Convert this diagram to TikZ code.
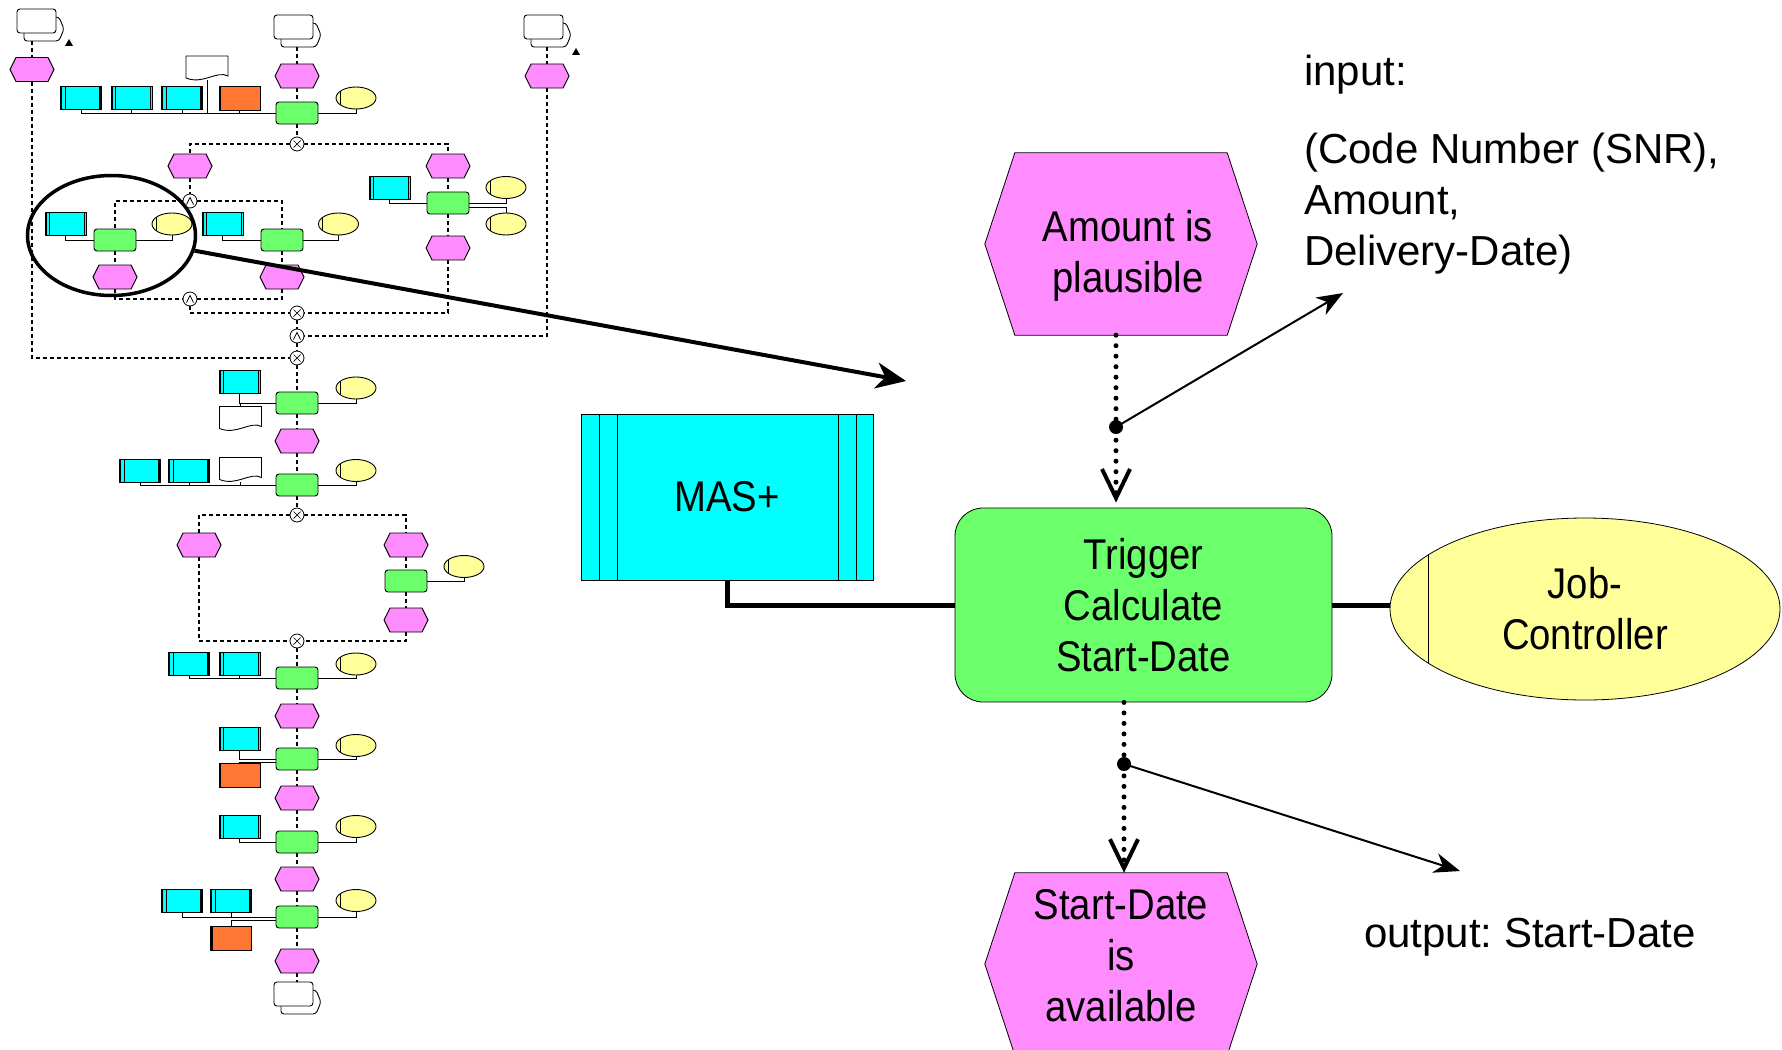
\documentclass[tikz,border=0pt]{standalone}
\usepackage{fontspec}
\setmainfont{Liberation Sans}
\newfontfamily\nodefont[FakeStretch=0.89]{Liberation Sans}
\usetikzlibrary{arrows.meta,shapes.geometric,backgrounds}
\definecolor{epcpink}{HTML}{FF8CFF}
\definecolor{epcgreen}{HTML}{6CFF6C}
\definecolor{epccyan}{HTML}{00FFFF}
\definecolor{epcyellow}{HTML}{FFFF99}
\definecolor{epcorange}{HTML}{FF7733}
\newcommand\epcfont{\nodefont\fontsize{43}{51}\selectfont\frenchspacing}
\newcommand\txtfont{\fontsize{42}{51}\selectfont\frenchspacing}
% mini event (hexagon)
\newcommand\mhex[3]{%
  \filldraw[mline, fill=epcpink] (#2-22,#3) -- (#2-16,#3-12) -- (#2+16,#3-12) -- (#2+22,#3) -- (#2+16,#3+12) -- (#2-16,#3+12) -- cycle;
  \node[minimum width=44pt, minimum height=24pt, inner sep=0pt] (#1) at (#2,#3) {};}
% mini document
\newcommand\mdoc[3]{%
  \filldraw[mline, fill=white] (#2-21,#3-12) -- (#2+21,#3-12) -- (#2+21,#3+8) .. controls (#2+10,#3+2) and (#2-4,#3+17) .. (#2-21,#3+10) -- cycle;
  \node[minimum width=42pt, minimum height=24pt, inner sep=0pt] (#1) at (#2,#3) {};}
% mini process interface
\newcommand\mpi[3]{%
  \filldraw[mline, fill=white, rounded corners=3pt] (#2-16,#3-8) -- (#2+19,#3-8) -- (#2+24,#3+4) -- (#2+19,#3+16) -- (#2-16,#3+16) -- cycle;
  \filldraw[mline, fill=white, rounded corners=3pt] (#2-23,#3-16) rectangle (#2+16,#3+8);
  \node[minimum width=46pt, minimum height=32pt, inner sep=0pt] (#1) at (#2,#3) {};}
\begin{document}
\begin{tikzpicture}[x=1pt,y=-1pt,
  mline/.style={line width=0.9pt},
  mflow/.style={line width=1.2pt, dash pattern=on 4pt off 3pt},
  mres/.style={line width=1pt},
  mfn/.style={draw, line width=0.9pt, fill=epcgreen, rounded corners=3pt, minimum width=42pt, minimum height=22pt, inner sep=0pt},
  msys/.style={draw, line width=0.9pt, fill=epccyan, minimum width=41pt, minimum height=23pt, inner sep=0pt,
    path picture={
      \draw[line width=1.6pt] ([xshift=1pt]path picture bounding box.north west) -- ([xshift=1pt]path picture bounding box.south west);
      \draw[line width=0.6pt] ([xshift=4.5pt]path picture bounding box.north west) -- ([xshift=4.5pt]path picture bounding box.south west);
      \draw[line width=1.6pt] ([xshift=-1.5pt]path picture bounding box.north east) -- ([xshift=-1.5pt]path picture bounding box.south east);}},
  morange/.style={draw, line width=0.9pt, fill=epcorange, minimum width=41pt, minimum height=24pt, inner sep=0pt,
    path picture={
      \draw[line width=2.4pt] ([xshift=1.2pt]path picture bounding box.north west) -- ([xshift=1.2pt]path picture bounding box.south west);}},
  morg/.style={draw, ellipse, line width=0.9pt, fill=epcyellow, minimum width=40pt, minimum height=22pt, inner sep=0pt,
    path picture={
      \draw[line width=0.6pt] ([xshift=4pt]path picture bounding box.north west) -- ([xshift=4pt]path picture bounding box.south west);}},
  mxor/.style={draw, circle, line width=0.8pt, fill=white, minimum size=14pt, inner sep=0pt,
    path picture={
      \draw[line width=0.7pt] ([shift={(-3.5,-3.5)}]path picture bounding box.center) -- ([shift={(3.5,3.5)}]path picture bounding box.center)
        ([shift={(-3.5,3.5)}]path picture bounding box.center) -- ([shift={(3.5,-3.5)}]path picture bounding box.center);}},
  mand/.style={draw, circle, line width=0.8pt, fill=white, minimum size=14pt, inner sep=0pt,
    path picture={
      \draw[line width=0.7pt] ([shift={(-3.5,3.5)}]path picture bounding box.center) -- ([shift={(0,-3.5)}]path picture bounding box.center) -- ([shift={(3.5,3.5)}]path picture bounding box.center);}},
  dotline/.style={line width=5pt, dash pattern=on 0pt off 10.5pt, line cap=round, -{Straight Barb[length=29pt,width=28pt,line width=4pt]}},
  thinarrow/.style={line width=2pt, -{Stealth[length=26pt,width=20pt,inset=8pt]}},
  bigarrow/.style={line width=4pt, -{Stealth[length=30pt,width=26pt,inset=9pt]}},
  heavy/.style={line width=5pt}
]
\useasboundingbox (0,0) rectangle (1782,1049);
\clip (0,0) rectangle (1782,1049);

% ================= mini EPC diagram =================
% process interfaces
\mpi{p1}{40}{25}
\mpi{p2}{297}{31}
\mpi{p3}{547}{31}
\mpi{p4}{297}{998}
\fill (65,46) -- (69,39) -- (73,46) -- cycle;
\fill (572,55) -- (576,48) -- (580,55) -- cycle;

% events
\mhex{e1}{32}{69.5}
\mhex{e2}{297}{76}
\mhex{e5}{547}{76}
\mhex{e3}{190}{166}
\mhex{e4}{448}{166}
\mhex{e6}{115}{277}
\mhex{e7}{282}{277}
\mhex{e8}{448}{248}
\mhex{e9}{297}{441}
\mhex{e10}{199}{545}
\mhex{e11}{406}{545}
\mhex{e12}{406}{620}
\mhex{e13}{297}{716}
\mhex{e14}{297}{798}
\mhex{e15}{297}{879}
\mhex{e16}{297}{961}

% functions
\node[mfn] (f1) at (297,113) {};
\node[mfn] (f2) at (115,240) {};
\node[mfn] (f3) at (282,240) {};
\node[mfn] (f4) at (448,203) {};
\node[mfn] (f5) at (297,403) {};
\node[mfn] (f6) at (297,485) {};
\node[mfn] (f7) at (406,581) {};
\node[mfn] (f8) at (297,678) {};
\node[mfn] (f9) at (297,759) {};
\node[mfn] (f10) at (297,842) {};
\node[mfn] (f11) at (297,917) {};

% connectors
\node[mxor] (c1) at (297,144) {};
\node[mand] (c2) at (190,201) {};
\node[mand] (c3) at (190,299) {};
\node[mxor] (c4) at (297,313) {};
\node[mand] (c5) at (297,336) {};
\node[mxor] (c6) at (297,358) {};
\node[mxor] (c7) at (297,515) {};
\node[mxor] (c8) at (297,641) {};

% control flow
\begin{scope}[on background layer]
\draw[mflow] (e1.north |- p1.south) -- (e1.north);
\draw[mflow] (e1.south) |- (c6.west);
\foreach \a/\b in {p2/e2, e2/f1, f1/c1, e3/c2, f2/e6, f3/e7, e4/f4, f4/e8, c4/c5, p3/e5,
                   c5/c6, c6/f5, f5/e9, e9/f6, f6/c7, e11/f7, f7/e12,
                   c8/f8, f8/e13, e13/f9, f9/e14, e14/f10, f10/e15, e15/f11, f11/e16, e16/p4}
  \draw[mflow] (\a) -- (\b);
\draw[mflow] (c1) -| (e3.north);
\draw[mflow] (c1) -| (e4.north);
\draw[mflow] (c2) -| (f2.north);
\draw[mflow] (c2) -| (f3.north);
\draw[mflow] (e6.south) |- (c3.west);
\draw[mflow] (e7.south) |- (c3.east);
\draw[mflow] (c3.south) |- (c4.west);
\draw[mflow] (e8.south) |- (c4.east);
\draw[mflow] (e5.south) |- (c5.east);
\draw[mflow] (c7) -| (e10.north);
\draw[mflow] (c7) -| (e11.north);
\draw[mflow] (e10.south) |- (c8.west);
\draw[mflow] (e12.south) |- (c8.east);
\end{scope}

% resources: function 1
\node[msys] (s1a) at (81,98) {};
\node[msys] (s1b) at (131.5,98) {};
\node[msys] (s1c) at (182,98) {};
\node[morange] (r1) at (239.5,98) {};
\mdoc{d1}{207}{68}
\node[morg] (o1) at (356,98) {};
% function 2,3,4
\node[msys] (s2) at (65.5,224) {};
\node[morg] (o2) at (172,224) {};
\node[msys] (s3) at (222.5,224) {};
\node[morg] (o3) at (338.5,224) {};
\node[msys] (s4) at (389.5,187.5) {};
\node[morg] (o4a) at (506,187.5) {};
\node[morg] (o4b) at (506,224) {};
% function 5,6
\node[msys] (s5) at (239.5,381.5) {};
\mdoc{d5}{240.5}{418.5}
\node[morg] (o5) at (356,388) {};
\node[msys] (s6a) at (140,470.5) {};
\node[msys] (s6b) at (189,470.5) {};
\mdoc{d6}{240.5}{469.5}
\node[morg] (o6) at (356,470.5) {};
% function 7
\node[morg] (o7) at (464,566.5) {};
% function 8-11
\node[msys] (s8a) at (189,664) {};
\node[msys] (s8b) at (239.5,664) {};
\node[morg] (o8) at (356,664) {};
\node[msys] (s9) at (239.5,738.5) {};
\node[morange] (r9) at (239.5,775) {};
\node[morg] (o9) at (356,745.5) {};
\node[msys] (s10) at (239.5,826.5) {};
\node[morg] (o10) at (356,826.5) {};
\node[msys] (s11a) at (182,900.5) {};
\node[msys] (s11b) at (231,900.5) {};
\node[morange] (r11) at (231,938) {};
\node[morg] (o11) at (356,900.5) {};

\begin{scope}[on background layer]
\foreach \s/\f in {s1a/f1, s1b/f1, s1c/f1, r1/f1, d1/f1, s2/f2, s3/f3, s4/f4, s5/f5,
                   s6a/f6, s6b/f6, d6/f6, s8a/f8, s8b/f8, s9/f9, s10/f10, s11a/f11, s11b/f11}
  \draw[mres] (\s.south) |- (\f.west);
\draw[mres] (d5.north) |- (f5.west);
\foreach \f/\o in {f1/o1, f2/o2, f3/o3, f4/o4a, f5/o5, f6/o6, f7/o7, f8/o8, f9/o9, f10/o10, f11/o11}
  \draw[mres] (\f.east) -| (\o.south);
\draw[mres] ([yshift=-4pt]f4.east) -| (o4b.north);
\draw[mres] ([yshift=-3pt]f9.west) -| (r9.north);
\draw[mres] ([yshift=-3pt]f11.west) -| (r11.north);
\end{scope}

% magnifying ellipse and arrow
\node[draw, ellipse, line width=3.5pt, minimum width=168pt, minimum height=120pt, inner sep=0pt] (lens) at (111.5,235.5) {};
\coordinate (lensto) at (906,381);
\draw[bigarrow] (lens) -- (lensto);

% ================= enlarged part =================
\node[draw, line width=0.8pt, fill=epccyan, minimum width=292pt, minimum height=166pt, inner sep=0pt, font=\epcfont,
  path picture={
    \foreach \d in {18,36}
      \draw[line width=0.8pt] ([xshift=\d pt]path picture bounding box.north west) -- ([xshift=\d pt]path picture bounding box.south west);
    \foreach \d in {17,35}
      \draw[line width=0.8pt] ([xshift=-\d pt]path picture bounding box.north east) -- ([xshift=-\d pt]path picture bounding box.south east);}
  ] (mas) at (727,497) {MAS+};

\node[draw, line width=0.8pt, fill=epcgreen, rounded corners=28pt, minimum width=377pt, minimum height=194pt,
  align=center, font=\epcfont] (trig) at (1143.5,605) {Trigger\\Calculate\\Start-Date};

\node[draw, ellipse, line width=0.8pt, fill=epcyellow, minimum width=390pt, minimum height=182pt, inner sep=0pt,
  align=center, font=\epcfont,
  path picture={\draw[line width=0.8pt] ([xshift=38pt]path picture bounding box.north west) -- ([xshift=38pt]path picture bounding box.south west);}
  ] (job) at (1585,609) {Job-\\Controller};

\node[minimum width=212pt, minimum height=182pt, inner sep=0pt,
  label={[font=\epcfont, align=center, xshift=7pt, yshift=-12pt]center:{Amount is\\plausible}}] (amount) at (1121,244) {};
\node[minimum width=212pt, minimum height=182pt, inner sep=0pt,
  label={[font=\epcfont, align=center, yshift=8pt]center:{Start-Date\\is\\available}}] (startd) at (1121,964) {};
\begin{scope}[on background layer]
\filldraw[line width=0.8pt, fill=epcpink] (amount.north west) -- (amount.north east) -- ([xshift=30pt]amount.east)
  -- (amount.south east) -- (amount.south west) -- ([xshift=-30pt]amount.west) -- cycle;
\filldraw[line width=0.8pt, fill=epcpink] (startd.north west) -- (startd.north east) -- ([xshift=30pt]startd.east)
  -- (startd.south east) -- (startd.south west) -- ([xshift=-30pt]startd.west) -- cycle;
\end{scope}

\draw[heavy] (mas.south) |- (trig.west);
\draw[heavy] (trig.east) -- (trig.east -| job.west);

\coordinate (atop) at ([xshift=-5pt]amount.south);
\coordinate (sdtop) at ([xshift=3pt]startd.north);
\coordinate (trigin) at ([yshift=5pt]atop |- trig.north);
\draw[dotline] (atop) -- (trigin);
\draw[dotline] (sdtop |- trig.south) -- (sdtop);

\coordinate (din) at (atop |- 0,427);
\coordinate (dout) at (sdtop |- 0,764);
\fill (din) circle (7pt);
\fill (dout) circle (7pt);
\coordinate (inend) at (1343,293);
\coordinate (outend) at (1460,871);
\draw[thinarrow] (din) -- (inend);
\draw[thinarrow] (dout) -- (outend);

\node[anchor=west, inner sep=0pt, font=\txtfont] (inlabel) at (1304,75) {input:};
\node[anchor=west, inner sep=0pt, font=\txtfont, align=left] (inlist) at (1304,204) {(Code Number (SNR),\\Amount,\\Delivery-Date)};
\node[anchor=west, inner sep=0pt, font=\txtfont] (outlabel) at (1364,937) {output: Start-Date};
\end{tikzpicture}
\end{document}
